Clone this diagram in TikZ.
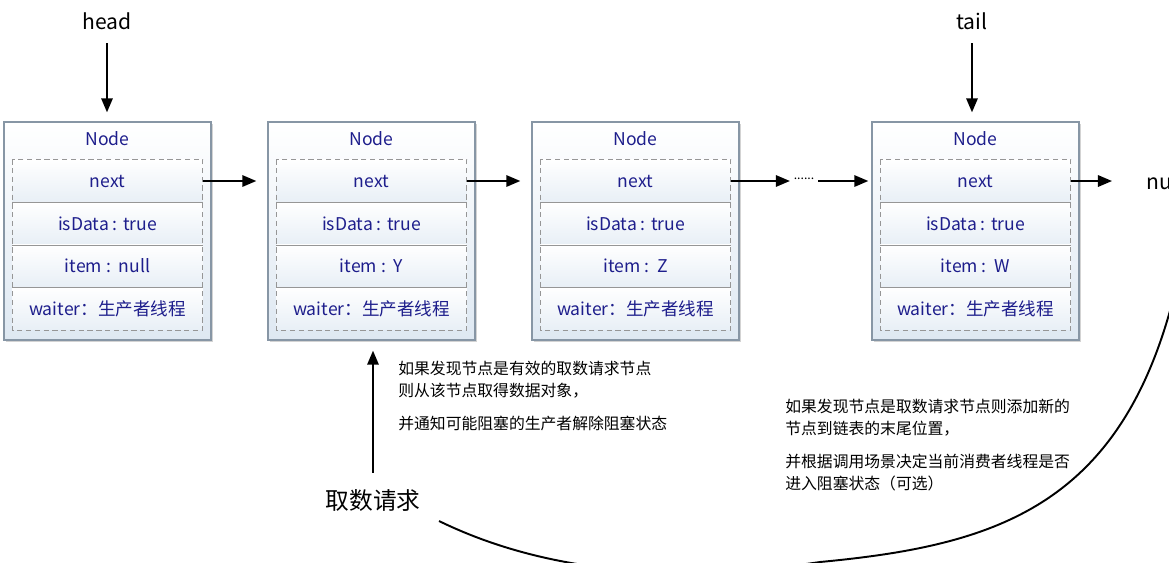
\documentclass[tikz,border=0pt]{standalone}
\usepackage{fontspec}
\setmainfont{Noto Sans CJK SC}
\usepackage{tikz}
\usetikzlibrary{arrows.meta, positioning, shadows}
\definecolor{NodeNavy}{RGB}{30,30,140}
\definecolor{BoxGray}{RGB}{135,150,165}
\definecolor{RowGray}{RGB}{150,150,150}
\definecolor{BoxTint}{RGB}{222,232,242}

\begin{document}
\begin{tikzpicture}[x=0.02cm, y=-0.02cm,
  qbox/.style={draw=BoxGray, line width=0.8pt, top color=white, bottom color=BoxTint,
               minimum width=4.14cm, minimum height=4.36cm,
               drop shadow={shadow xshift=1pt, shadow yshift=-1pt, opacity=0.35}},
  ttl/.style={font=\fontsize{10}{12}\selectfont, text=NodeNavy},
  row/.style={minimum width=3.8cm, minimum height=0.85cm, inner sep=0pt,
              top color=white, bottom color=BoxTint!70,
              font=\fontsize{10}{12}\selectfont, text=NodeNavy},
  sep/.style={RowGray, line width=0.6pt},
  dbox/.style={RowGray, line width=0.6pt, dash pattern=on 3pt off 2pt},
  arr/.style={-{Triangle[length=8pt,width=6.5pt]}, line width=1.1pt},
  lbl/.style={font=\fontsize{12}{14}\selectfont},
  note/.style={font=\fontsize{9}{12.5}\selectfont, align=left, inner sep=0pt},
]
\useasboundingbox (0,0) rectangle (1169,562);
\clip (0,0) rectangle (1169,562);

% the four queue nodes
\foreach \n/\x/\v in {n1/107.5/null, n2/371.5/Y, n3/635.5/Z, n4/975.5/W} {
  \node[qbox] (\n) at (\x,231) {};
  \node[ttl] (\n-title) at (\x,139) {Node};
  \node[row] (\n-next) at (\x,181) {next};
  \node[row] (\n-data) at (\x,223.5) {isData : true};
  \node[row] (\n-item) at (\x,266) {item :\ \ \v};
  \node[row] (\n-wait) at (\x,308.5) {waiter：生产者线程};
  \draw[sep] (\n-next.south west) -- (\n-next.south east);
  \draw[sep] (\n-data.south west) -- (\n-data.south east);
  \draw[sep] (\n-item.south west) -- (\n-item.south east);
  \draw[dbox] (\n-next.north west) rectangle (\n-wait.south east);
}

\node[font=\fontsize{7}{8}\selectfont, inner sep=2pt] (dots) at (804,179) {......};
\node[lbl, anchor=west] (nullv) at (1140,181) {null};

\node[lbl] (head) at (107,21) {head};
\node[lbl] (tail) at (972,21) {tail};

\draw[arr, shorten <=0.15cm, shorten >=0.18cm] (head.south) -- (head.south |- n1.north);
\draw[arr, shorten <=0.15cm, shorten >=0.18cm] (tail.south) -- (tail.south |- n4.north);

\draw[arr, shorten >=0.22cm] (n1-next.east) -- (n1-next.east -| n2.west);
\draw[arr, shorten >=0.22cm] (n2-next.east) -- (n2-next.east -| n3.west);
\draw[arr] (n3-next.east) -- (n3-next.east -| dots.west);
\draw[arr, shorten >=0.06cm] (n4-next.east -| dots.east) -- (n4-next.west -| n4.west);
\draw[arr, shorten >=0.56cm] (n4-next.east) -- (nullv.west);

% take request
\node[font=\fontsize{13.5}{16}\selectfont] (req) at (373,500) {取数请求};
\draw[arr, shorten <=0.2cm, shorten >=0.2cm] (req.north) -- (req.north |- n2.south);

\node[note, anchor=north west] (note1) at (398,361)
  {如果发现节点是有效的取数请求节点\\则从该节点取得数据对象，\\[6pt]并通知可能阻塞的生产者解除阻塞状态};
\node[note, anchor=north west] (note2) at (785,399)
  {如果发现节点是取数请求节点则添加新的\\节点到链表的末尾位置，\\[6pt]并根据调用场景决定当前消费者线程是否\\进入阻塞状态（可选）};

\coordinate (cstart) at (439,521);
\coordinate (cbottom) at (820,562);
\coordinate (cend) at (1180,270);
\draw[line width=1.1pt] (cstart) .. controls (560,580) and (700,580) .. (cbottom)
  .. controls (1000,545) and (1130,505) .. (cend);
\end{tikzpicture}
\end{document}
